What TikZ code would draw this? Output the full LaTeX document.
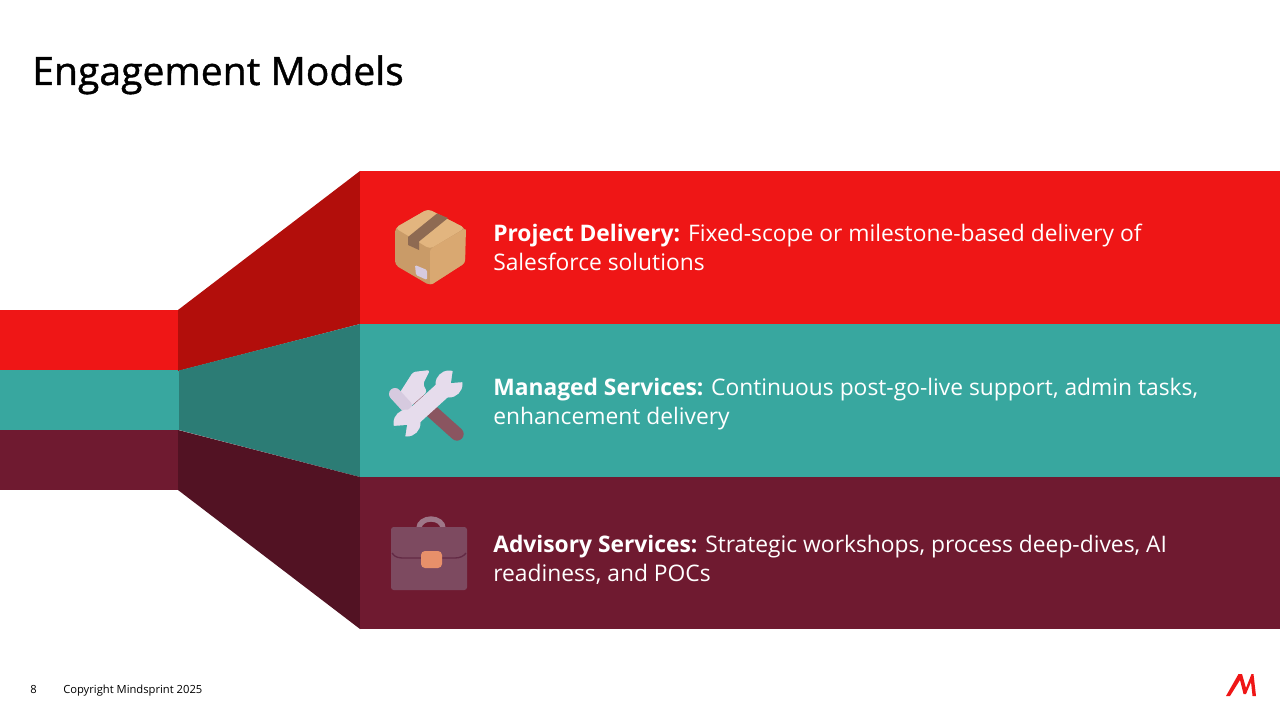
\documentclass[tikz,border=0pt]{standalone}
\usepackage{fontspec}
\setmainfont{Open Sans}
\definecolor{bandred}{HTML}{EF1616}
\definecolor{bandteal}{HTML}{38A79F}
\definecolor{bandmaroon}{HTML}{6F1A30}
\definecolor{foldred}{HTML}{B20E0B}
\definecolor{foldteal}{HTML}{2C7C75}
\definecolor{foldmaroon}{HTML}{521223}
\definecolor{boxtop}{HTML}{E2B57F}
\definecolor{boxleft}{HTML}{C99B68}
\definecolor{boxright}{HTML}{D9A871}
\definecolor{tape}{HTML}{8E6A52}
\definecolor{steel}{HTML}{E6DCEC}
\definecolor{steeld}{HTML}{D6CADF}
\definecolor{handle}{HTML}{8A5560}
\definecolor{case}{HTML}{7D4A60}
\definecolor{casedark}{HTML}{632A45}
\definecolor{clasp}{HTML}{E8906A}
\tikzset{
  x=0.75pt,y=-0.75pt,
  bodytext/.style={text=white,anchor=north west,align=left,inner sep=0pt,font=\fontsize{17.1pt}{21.8pt}\selectfont},
  foot/.style={text=black,inner sep=0pt,font=\fontsize{8.4pt}{10pt}\selectfont}
}
\begin{document}
\begin{tikzpicture}
\useasboundingbox (0,0) rectangle (1280,720);
\fill[white] (0,0) rectangle (1280,720);
% left bands
\fill[bandred] (0,310) rectangle (178,370);
\fill[bandteal] (0,370) rectangle (179,430);
\fill[bandmaroon] (0,430) rectangle (178,490);
% folds
\fill[foldred] (178,310) -- (360,171) -- (360,324) -- (178,371) -- cycle;
\fill[foldteal] (179,370.5) -- (360,324) -- (360,477) -- (179,430) -- cycle;
\fill[foldmaroon] (178,430) -- (360,477) -- (360,629) -- (178,490) -- cycle;
% right bands
\fill[bandred] (360,171) rectangle (1280,324);
\fill[bandteal] (360,324) rectangle (1280,477);
\fill[bandmaroon] (360,477) rectangle (1280,629);
% box icon
\fill[boxleft,rounded corners=3] (428,209) -- (395,228) -- (395,265) -- (430,285.5) -- (465,263) -- (465,228) -- cycle;
\fill[boxtop,rounded corners=3] (428,209) -- (395,228) -- (430,249) -- (465,228) -- cycle;
\fill[boxright,rounded corners=2] (466,228) -- (465,263) -- (430,285.5) -- (430,249) -- cycle;
\fill[tape] (408,237) -- (437,213.5) -- (448,218) -- (419,241.5) -- (419,250) -- (408,245) -- cycle;
\fill[steeld,rounded corners=1] (415,265) -- (427,270) -- (427,280) -- (416,275) -- cycle;
% tools icon
\draw[handle,line width=10,line cap=round] (418,399) -- (457,434);
\fill[steel,rounded corners=2] (413,372) -- (430,370) -- (423,384) -- (427,392) -- (410,407) -- (397,397) -- cycle;
\draw[steeld,line width=9,line cap=round] (395,394) -- (406,406);
\draw[steel,line width=13] (412,418) -- (444,389);
\fill[steel] (407,423) circle (13.5);
\fill[steel] (449,384) circle (13.5);
\fill[bandteal] (393,426) -- (407,425) -- (405,438) -- (398,436) -- cycle;
\fill[bandteal] (464,382) -- (451,383) -- (453,369) -- (460,371) -- cycle;
% briefcase icon
\draw[case!75!white,line width=4] (419,528) arc[start angle=180,end angle=360,x radius=12,y radius=9];
\fill[case,rounded corners=2] (391,527) rectangle (467,590);
\draw[casedark,line width=1] (392,553) .. controls (395,558) and (400,558) .. (405,558) -- (455,558) .. controls (460,558) and (464,556) .. (466,553);
\fill[clasp,rounded corners=3] (421,551) rectangle (442,568);
% texts
\node[anchor=base west,inner sep=0pt,text=black,font=\fontsize{29.3pt}{34pt}\selectfont\addfontfeatures{FakeBold=1}] (title) at (32,85) {Engagement Models};
\node[bodytext] (t1) at (493,223.5) {\textbf{Project Delivery:} Fixed-scope or milestone-based delivery of\\Salesforce solutions};
\node[bodytext] (t2) at (493,377.5) {\textbf{Managed Services:} Continuous post-go-live support, admin tasks,\\enhancement delivery};
\node[bodytext] (t3) at (493,534.5) {\textbf{Advisory Services:} Strategic workshops, process deep-dives, AI\\readiness, and POCs};
\node[foot,anchor=base west] (pg) at (30,693) {8};
\node[foot,anchor=base west] (copy) at (63,693) {Copyright Mindsprint 2025};
% logo
\fill[bandred] (1226,696) -- (1238.5,674) -- (1242,674) -- (1246,688) -- (1251.5,674) -- (1253.5,674) -- (1256,696) -- (1252.5,696) -- (1251,682) -- (1246,694) -- (1243.5,694) -- (1240,680) -- (1230,696) -- cycle;
\end{tikzpicture}
\end{document}
